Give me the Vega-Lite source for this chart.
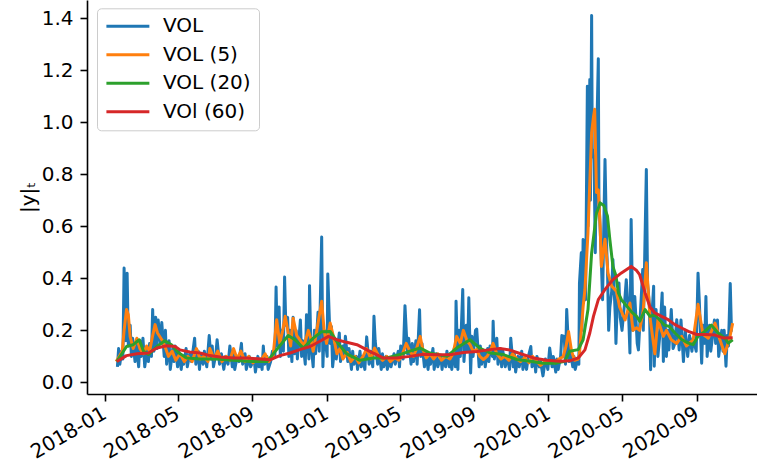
{
  "$schema": "https://vega.github.io/schema/vega-lite/v6.json",
  "width": 670,
  "height": 394,
  "autosize": {"type": "none"},
  "padding": {"left": 87, "top": 0, "right": 0, "bottom": 76},
  "config": {
    "view": {"stroke": null},
    "font": "DejaVu Sans",
    "axis": {"grid": false, "domainColor": "#000000", "domainWidth": 1.6, "tickColor": "#000000", "tickWidth": 1.6, "tickSize": 7, "labelFont": "DejaVu Sans", "labelFontSize": 20, "labelColor": "#000000", "titleFont": "DejaVu Sans", "titleFontSize": 20, "titleColor": "#000000", "titleFontWeight": "normal", "labelOverlap": false},
    "legend": {"orient": "none", "legendX": 10, "legendY": 8.3, "direction": "vertical", "fillColor": "rgba(255,255,255,0.8)", "strokeColor": "#cccccc", "cornerRadius": 4, "padding": 8, "labelFont": "DejaVu Sans", "labelFontSize": 20, "labelColor": "#000000", "symbolType": "M-1.2,0H4.8", "symbolSize": 205, "symbolStrokeWidth": 3, "labelOffset": 38, "rowPadding": 8.5, "title": null}
  },
  "datasets": {
    "vol": [
      {"d":"2018-01-22","v":0.06},{"d":"2018-01-24","v":0.13},{"d":"2018-01-26","v":0.07},{"d":"2018-01-29","v":0.12},{"d":"2018-01-31","v":0.09},
      {"d":"2018-02-02","v":0.44},{"d":"2018-02-05","v":0.16},{"d":"2018-02-07","v":0.42},{"d":"2018-02-09","v":0.14},{"d":"2018-02-12","v":0.22},{"d":"2018-02-14","v":0.10},{"d":"2018-02-16","v":0.17},{"d":"2018-02-20","v":0.08},{"d":"2018-02-22","v":0.15},{"d":"2018-02-26","v":0.06},{"d":"2018-02-28","v":0.16},
      {"d":"2018-03-02","v":0.10},{"d":"2018-03-05","v":0.17},{"d":"2018-03-08","v":0.06},{"d":"2018-03-12","v":0.13},{"d":"2018-03-14","v":0.08},{"d":"2018-03-16","v":0.15},{"d":"2018-03-19","v":0.10},{"d":"2018-03-21","v":0.28},{"d":"2018-03-23","v":0.12},{"d":"2018-03-26","v":0.25},{"d":"2018-03-28","v":0.13},{"d":"2018-03-30","v":0.24},
      {"d":"2018-04-03","v":0.15},{"d":"2018-04-05","v":0.23},{"d":"2018-04-09","v":0.10},{"d":"2018-04-11","v":0.20},{"d":"2018-04-13","v":0.07},{"d":"2018-04-17","v":0.16},{"d":"2018-04-19","v":0.05},{"d":"2018-04-23","v":0.13},{"d":"2018-04-25","v":0.08},{"d":"2018-04-27","v":0.14},
      {"d":"2018-05-01","v":0.06},{"d":"2018-05-03","v":0.12},{"d":"2018-05-07","v":0.05},{"d":"2018-05-09","v":0.10},{"d":"2018-05-11","v":0.07},{"d":"2018-05-15","v":0.13},{"d":"2018-05-17","v":0.06},{"d":"2018-05-21","v":0.11},{"d":"2018-05-24","v":0.08},{"d":"2018-05-29","v":0.17},{"d":"2018-05-31","v":0.07},
      {"d":"2018-06-04","v":0.12},{"d":"2018-06-06","v":0.05},{"d":"2018-06-08","v":0.11},{"d":"2018-06-12","v":0.07},{"d":"2018-06-14","v":0.12},{"d":"2018-06-18","v":0.06},{"d":"2018-06-22","v":0.18},{"d":"2018-06-25","v":0.09},{"d":"2018-06-27","v":0.14},{"d":"2018-06-29","v":0.06},
      {"d":"2018-07-03","v":0.11},{"d":"2018-07-05","v":0.164},{"d":"2018-07-09","v":0.07},{"d":"2018-07-12","v":0.11},{"d":"2018-07-16","v":0.05},{"d":"2018-07-19","v":0.10},{"d":"2018-07-23","v":0.07},{"d":"2018-07-26","v":0.14},{"d":"2018-07-30","v":0.06},
      {"d":"2018-08-01","v":0.12},{"d":"2018-08-03","v":0.05},{"d":"2018-08-07","v":0.10},{"d":"2018-08-10","v":0.08},{"d":"2018-08-14","v":0.15},{"d":"2018-08-16","v":0.07},{"d":"2018-08-20","v":0.11},{"d":"2018-08-22","v":0.05},{"d":"2018-08-27","v":0.10},{"d":"2018-08-29","v":0.06},
      {"d":"2018-09-04","v":0.09},{"d":"2018-09-06","v":0.04},{"d":"2018-09-10","v":0.10},{"d":"2018-09-12","v":0.06},{"d":"2018-09-14","v":0.09},{"d":"2018-09-17","v":0.05},{"d":"2018-09-19","v":0.14},{"d":"2018-09-21","v":0.07},{"d":"2018-09-25","v":0.10},{"d":"2018-09-27","v":0.05},
      {"d":"2018-10-01","v":0.08},{"d":"2018-10-04","v":0.12},{"d":"2018-10-08","v":0.10},{"d":"2018-10-10","v":0.367},{"d":"2018-10-12","v":0.14},{"d":"2018-10-15","v":0.29},{"d":"2018-10-17","v":0.10},{"d":"2018-10-19","v":0.20},{"d":"2018-10-22","v":0.12},{"d":"2018-10-24","v":0.405},{"d":"2018-10-26","v":0.22},{"d":"2018-10-29","v":0.25},{"d":"2018-10-31","v":0.10},
      {"d":"2018-11-02","v":0.20},{"d":"2018-11-05","v":0.08},{"d":"2018-11-07","v":0.25},{"d":"2018-11-09","v":0.11},{"d":"2018-11-12","v":0.20},{"d":"2018-11-14","v":0.09},{"d":"2018-11-19","v":0.24},{"d":"2018-11-21","v":0.10},{"d":"2018-11-23","v":0.16},{"d":"2018-11-27","v":0.07},{"d":"2018-11-29","v":0.26},
      {"d":"2018-12-03","v":0.09},{"d":"2018-12-04","v":0.372},{"d":"2018-12-06","v":0.16},{"d":"2018-12-10","v":0.06},{"d":"2018-12-12","v":0.20},{"d":"2018-12-14","v":0.11},{"d":"2018-12-18","v":0.27},{"d":"2018-12-20","v":0.12},{"d":"2018-12-24","v":0.559},{"d":"2018-12-26","v":0.06},{"d":"2018-12-28","v":0.20},
      {"d":"2019-01-02","v":0.10},{"d":"2019-01-03","v":0.417},{"d":"2019-01-07","v":0.15},{"d":"2019-01-09","v":0.215},{"d":"2019-01-11","v":0.06},{"d":"2019-01-15","v":0.15},{"d":"2019-01-17","v":0.09},{"d":"2019-01-22","v":0.19},{"d":"2019-01-24","v":0.08},{"d":"2019-01-28","v":0.14},{"d":"2019-01-30","v":0.10},
      {"d":"2019-02-01","v":0.177},{"d":"2019-02-05","v":0.08},{"d":"2019-02-07","v":0.13},{"d":"2019-02-11","v":0.05},{"d":"2019-02-13","v":0.12},{"d":"2019-02-15","v":0.07},{"d":"2019-02-19","v":0.10},{"d":"2019-02-21","v":0.05},{"d":"2019-02-25","v":0.12},{"d":"2019-02-27","v":0.06},
      {"d":"2019-03-01","v":0.10},{"d":"2019-03-05","v":0.05},{"d":"2019-03-08","v":0.175},{"d":"2019-03-12","v":0.07},{"d":"2019-03-14","v":0.12},{"d":"2019-03-18","v":0.06},{"d":"2019-03-20","v":0.254},{"d":"2019-03-22","v":0.16},{"d":"2019-03-26","v":0.07},{"d":"2019-03-28","v":0.13},
      {"d":"2019-04-01","v":0.05},{"d":"2019-04-03","v":0.11},{"d":"2019-04-05","v":0.06},{"d":"2019-04-09","v":0.10},{"d":"2019-04-11","v":0.05},{"d":"2019-04-15","v":0.09},{"d":"2019-04-17","v":0.06},{"d":"2019-04-22","v":0.11},{"d":"2019-04-24","v":0.07},{"d":"2019-04-29","v":0.12},
      {"d":"2019-05-01","v":0.06},{"d":"2019-05-03","v":0.14},{"d":"2019-05-07","v":0.09},{"d":"2019-05-10","v":0.295},{"d":"2019-05-14","v":0.11},{"d":"2019-05-16","v":0.17},{"d":"2019-05-20","v":0.07},{"d":"2019-05-22","v":0.15},{"d":"2019-05-24","v":0.08},{"d":"2019-05-28","v":0.16},{"d":"2019-05-30","v":0.07},
      {"d":"2019-06-03","v":0.279},{"d":"2019-06-05","v":0.10},{"d":"2019-06-07","v":0.15},{"d":"2019-06-11","v":0.06},{"d":"2019-06-13","v":0.12},{"d":"2019-06-17","v":0.05},{"d":"2019-06-19","v":0.10},{"d":"2019-06-21","v":0.07},{"d":"2019-06-25","v":0.13},{"d":"2019-06-27","v":0.05},
      {"d":"2019-07-01","v":0.11},{"d":"2019-07-03","v":0.06},{"d":"2019-07-08","v":0.10},{"d":"2019-07-10","v":0.05},{"d":"2019-07-12","v":0.09},{"d":"2019-07-16","v":0.06},{"d":"2019-07-18","v":0.12},{"d":"2019-07-22","v":0.06},{"d":"2019-07-24","v":0.11},{"d":"2019-07-26","v":0.05},{"d":"2019-07-30","v":0.13},
      {"d":"2019-08-01","v":0.06},{"d":"2019-08-02","v":0.312},{"d":"2019-08-05","v":0.05},{"d":"2019-08-07","v":0.20},{"d":"2019-08-09","v":0.10},{"d":"2019-08-13","v":0.357},{"d":"2019-08-15","v":0.08},{"d":"2019-08-19","v":0.22},{"d":"2019-08-21","v":0.12},{"d":"2019-08-23","v":0.325},{"d":"2019-08-26","v":0.036},{"d":"2019-08-28","v":0.177},{"d":"2019-08-30","v":0.10},
      {"d":"2019-09-03","v":0.20},{"d":"2019-09-05","v":0.205},{"d":"2019-09-09","v":0.06},{"d":"2019-09-11","v":0.14},{"d":"2019-09-13","v":0.07},{"d":"2019-09-17","v":0.12},{"d":"2019-09-19","v":0.06},{"d":"2019-09-23","v":0.13},{"d":"2019-09-25","v":0.08},{"d":"2019-09-27","v":0.14},
      {"d":"2019-10-01","v":0.10},{"d":"2019-10-02","v":0.235},{"d":"2019-10-04","v":0.09},{"d":"2019-10-08","v":0.17},{"d":"2019-10-10","v":0.07},{"d":"2019-10-14","v":0.13},{"d":"2019-10-16","v":0.06},{"d":"2019-10-18","v":0.12},{"d":"2019-10-22","v":0.06},{"d":"2019-10-25","v":0.10},{"d":"2019-10-29","v":0.05},{"d":"2019-10-31","v":0.17},
      {"d":"2019-11-04","v":0.06},{"d":"2019-11-06","v":0.11},{"d":"2019-11-08","v":0.04},{"d":"2019-11-12","v":0.10},{"d":"2019-11-14","v":0.06},{"d":"2019-11-18","v":0.12},{"d":"2019-11-20","v":0.05},{"d":"2019-11-22","v":0.09},{"d":"2019-11-26","v":0.05},{"d":"2019-11-29","v":0.10},
      {"d":"2019-12-03","v":0.138},{"d":"2019-12-05","v":0.06},{"d":"2019-12-09","v":0.09},{"d":"2019-12-11","v":0.04},{"d":"2019-12-13","v":0.10},{"d":"2019-12-17","v":0.06},{"d":"2019-12-19","v":0.08},{"d":"2019-12-23","v":0.025},{"d":"2019-12-27","v":0.09},{"d":"2019-12-31","v":0.05},
      {"d":"2020-01-03","v":0.132},{"d":"2020-01-07","v":0.06},{"d":"2020-01-09","v":0.10},{"d":"2020-01-13","v":0.04},{"d":"2020-01-15","v":0.09},{"d":"2020-01-17","v":0.05},{"d":"2020-01-21","v":0.10},{"d":"2020-01-23","v":0.18},{"d":"2020-01-27","v":0.177},{"d":"2020-01-29","v":0.07},{"d":"2020-01-31","v":0.28},
      {"d":"2020-02-04","v":0.08},{"d":"2020-02-06","v":0.12},{"d":"2020-02-10","v":0.06},{"d":"2020-02-12","v":0.10},{"d":"2020-02-14","v":0.05},{"d":"2020-02-18","v":0.09},{"d":"2020-02-20","v":0.07},{"d":"2020-02-21","v":0.382},{"d":"2020-02-24","v":0.498},{"d":"2020-02-25","v":0.20},{"d":"2020-02-27","v":0.549},{"d":"2020-02-28","v":0.318},
      {"d":"2020-03-02","v":0.318},{"d":"2020-03-05","v":1.138},{"d":"2020-03-06","v":0.60},{"d":"2020-03-09","v":1.164},{"d":"2020-03-10","v":0.70},{"d":"2020-03-12","v":1.41},{"d":"2020-03-13","v":0.90},{"d":"2020-03-16","v":0.857},{"d":"2020-03-18","v":0.498},{"d":"2020-03-20","v":0.90},{"d":"2020-03-23","v":1.244},{"d":"2020-03-24","v":0.70},{"d":"2020-03-27","v":0.537},{"d":"2020-03-30","v":0.318},
      {"d":"2020-04-01","v":0.60},{"d":"2020-04-03","v":0.857},{"d":"2020-04-06","v":0.50},{"d":"2020-04-07","v":0.446},{"d":"2020-04-09","v":0.20},{"d":"2020-04-11","v":0.29},{"d":"2020-04-14","v":0.35},{"d":"2020-04-16","v":0.472},{"d":"2020-04-20","v":0.25},{"d":"2020-04-21","v":0.15},{"d":"2020-04-23","v":0.30},{"d":"2020-04-26","v":0.382},{"d":"2020-04-28","v":0.25},
      {"d":"2020-05-01","v":0.20},{"d":"2020-05-05","v":0.30},{"d":"2020-05-08","v":0.395},{"d":"2020-05-12","v":0.25},{"d":"2020-05-14","v":0.113},{"d":"2020-05-16","v":0.626},{"d":"2020-05-19","v":0.20},{"d":"2020-05-22","v":0.33},{"d":"2020-05-26","v":0.15},{"d":"2020-05-28","v":0.125},
      {"d":"2020-06-01","v":0.30},{"d":"2020-06-04","v":0.434},{"d":"2020-06-05","v":0.20},{"d":"2020-06-10","v":0.818},{"d":"2020-06-12","v":0.382},{"d":"2020-06-15","v":0.30},{"d":"2020-06-17","v":0.049},{"d":"2020-06-19","v":0.25},{"d":"2020-06-22","v":0.37},{"d":"2020-06-23","v":0.062},{"d":"2020-06-26","v":0.28},{"d":"2020-06-29","v":0.10},
      {"d":"2020-07-02","v":0.177},{"d":"2020-07-06","v":0.344},{"d":"2020-07-08","v":0.08},{"d":"2020-07-10","v":0.29},{"d":"2020-07-13","v":0.10},{"d":"2020-07-15","v":0.20},{"d":"2020-07-17","v":0.125},{"d":"2020-07-21","v":0.28},{"d":"2020-07-24","v":0.13},{"d":"2020-07-27","v":0.15},{"d":"2020-07-30","v":0.241},
      {"d":"2020-08-03","v":0.125},{"d":"2020-08-06","v":0.24},{"d":"2020-08-10","v":0.08},{"d":"2020-08-13","v":0.20},{"d":"2020-08-17","v":0.10},{"d":"2020-08-20","v":0.18},{"d":"2020-08-24","v":0.12},{"d":"2020-08-26","v":0.17},{"d":"2020-08-31","v":0.12},
      {"d":"2020-09-03","v":0.42},{"d":"2020-09-05","v":0.318},{"d":"2020-09-09","v":0.074},{"d":"2020-09-11","v":0.22},{"d":"2020-09-14","v":0.15},{"d":"2020-09-16","v":0.33},{"d":"2020-09-18","v":0.10},{"d":"2020-09-22","v":0.22},{"d":"2020-09-24","v":0.12},{"d":"2020-09-28","v":0.20},{"d":"2020-09-30","v":0.24},
      {"d":"2020-10-02","v":0.15},{"d":"2020-10-05","v":0.24},{"d":"2020-10-07","v":0.10},{"d":"2020-10-12","v":0.20},{"d":"2020-10-14","v":0.12},{"d":"2020-10-16","v":0.20},{"d":"2020-10-19","v":0.062},{"d":"2020-10-21","v":0.18},{"d":"2020-10-23","v":0.14},{"d":"2020-10-26","v":0.38},{"d":"2020-10-28","v":0.20},{"d":"2020-10-30","v":0.20}
    ],
    "vol5": [
      {"d":"2018-01-20","v":0.08},{"d":"2018-01-25","v":0.10},{"d":"2018-01-30","v":0.12},{"d":"2018-02-02","v":0.20},{"d":"2018-02-06","v":0.28},{"d":"2018-02-09","v":0.26},{"d":"2018-02-12","v":0.176},{"d":"2018-02-17","v":0.13},{"d":"2018-02-23","v":0.17},{"d":"2018-02-28","v":0.13},
      {"d":"2018-03-06","v":0.11},{"d":"2018-03-11","v":0.14},{"d":"2018-03-16","v":0.12},{"d":"2018-03-21","v":0.18},{"d":"2018-03-25","v":0.222},{"d":"2018-03-29","v":0.19},{"d":"2018-04-05","v":0.164},{"d":"2018-04-10","v":0.14},{"d":"2018-04-16","v":0.10},{"d":"2018-04-22","v":0.12},{"d":"2018-04-28","v":0.085},
      {"d":"2018-05-05","v":0.11},{"d":"2018-05-12","v":0.08},{"d":"2018-05-18","v":0.10},{"d":"2018-05-25","v":0.08},{"d":"2018-06-01","v":0.13},{"d":"2018-06-07","v":0.09},{"d":"2018-06-13","v":0.10},{"d":"2018-06-20","v":0.08},{"d":"2018-06-23","v":0.13},{"d":"2018-06-30","v":0.09},
      {"d":"2018-07-06","v":0.12},{"d":"2018-07-13","v":0.08},{"d":"2018-07-20","v":0.10},{"d":"2018-07-26","v":0.085},{"d":"2018-08-01","v":0.13},{"d":"2018-08-07","v":0.09},{"d":"2018-08-13","v":0.12},{"d":"2018-08-20","v":0.08},{"d":"2018-08-26","v":0.10},
      {"d":"2018-09-02","v":0.075},{"d":"2018-09-09","v":0.09},{"d":"2018-09-15","v":0.085},{"d":"2018-09-22","v":0.11},{"d":"2018-09-28","v":0.08},{"d":"2018-10-05","v":0.10},{"d":"2018-10-11","v":0.241},{"d":"2018-10-16","v":0.15},{"d":"2018-10-21","v":0.20},{"d":"2018-10-25","v":0.254},{"d":"2018-10-30","v":0.19},
      {"d":"2018-11-03","v":0.14},{"d":"2018-11-07","v":0.247},{"d":"2018-11-13","v":0.18},{"d":"2018-11-18","v":0.164},{"d":"2018-11-25","v":0.14},{"d":"2018-12-02","v":0.20},{"d":"2018-12-06","v":0.17},{"d":"2018-12-10","v":0.12},{"d":"2018-12-16","v":0.20},{"d":"2018-12-24","v":0.312},{"d":"2018-12-28","v":0.20},
      {"d":"2019-01-01","v":0.15},{"d":"2019-01-07","v":0.228},{"d":"2019-01-12","v":0.18},{"d":"2019-01-18","v":0.11},{"d":"2019-01-23","v":0.13},{"d":"2019-01-28","v":0.09},{"d":"2019-02-04","v":0.115},{"d":"2019-02-10","v":0.08},{"d":"2019-02-17","v":0.10},{"d":"2019-02-23","v":0.075},
      {"d":"2019-03-02","v":0.10},{"d":"2019-03-08","v":0.13},{"d":"2019-03-15","v":0.09},{"d":"2019-03-21","v":0.132},{"d":"2019-03-28","v":0.10},{"d":"2019-04-03","v":0.085},{"d":"2019-04-10","v":0.10},{"d":"2019-04-16","v":0.08},{"d":"2019-04-23","v":0.095},{"d":"2019-04-30","v":0.085},
      {"d":"2019-05-06","v":0.11},{"d":"2019-05-12","v":0.15},{"d":"2019-05-18","v":0.12},{"d":"2019-05-24","v":0.10},{"d":"2019-05-29","v":0.13},{"d":"2019-06-04","v":0.177},{"d":"2019-06-08","v":0.13},{"d":"2019-06-14","v":0.094},{"d":"2019-06-20","v":0.11},{"d":"2019-06-26","v":0.09},
      {"d":"2019-07-03","v":0.11},{"d":"2019-07-09","v":0.085},{"d":"2019-07-16","v":0.10},{"d":"2019-07-23","v":0.09},{"d":"2019-07-28","v":0.11},{"d":"2019-08-03","v":0.177},{"d":"2019-08-09","v":0.15},{"d":"2019-08-14","v":0.20},{"d":"2019-08-20","v":0.16},{"d":"2019-08-25","v":0.145},{"d":"2019-08-30","v":0.12},
      {"d":"2019-09-05","v":0.126},{"d":"2019-09-10","v":0.10},{"d":"2019-09-16","v":0.088},{"d":"2019-09-22","v":0.10},{"d":"2019-09-27","v":0.12},{"d":"2019-10-02","v":0.15},{"d":"2019-10-08","v":0.11},{"d":"2019-10-15","v":0.09},{"d":"2019-10-21","v":0.10},{"d":"2019-10-28","v":0.085},
      {"d":"2019-11-03","v":0.11},{"d":"2019-11-10","v":0.09},{"d":"2019-11-16","v":0.08},{"d":"2019-11-23","v":0.095},{"d":"2019-11-30","v":0.075},{"d":"2019-12-06","v":0.10},{"d":"2019-12-13","v":0.08},{"d":"2019-12-19","v":0.065},{"d":"2019-12-26","v":0.08},
      {"d":"2020-01-03","v":0.085},{"d":"2020-01-11","v":0.075},{"d":"2020-01-18","v":0.09},{"d":"2020-01-25","v":0.098},{"d":"2020-01-30","v":0.14},{"d":"2020-02-03","v":0.196},{"d":"2020-02-08","v":0.12},{"d":"2020-02-13","v":0.085},{"d":"2020-02-19","v":0.09},{"d":"2020-02-21","v":0.11},{"d":"2020-02-27","v":0.29},
      {"d":"2020-03-01","v":0.357},{"d":"2020-03-06","v":0.575},{"d":"2020-03-12","v":0.96},{"d":"2020-03-15","v":1.02},{"d":"2020-03-17","v":1.05},{"d":"2020-03-20","v":0.73},{"d":"2020-03-23","v":0.74},{"d":"2020-03-26","v":0.60},{"d":"2020-03-28","v":0.446},
      {"d":"2020-04-03","v":0.55},{"d":"2020-04-08","v":0.42},{"d":"2020-04-14","v":0.37},{"d":"2020-04-22","v":0.35},{"d":"2020-04-27","v":0.29},{"d":"2020-05-06","v":0.24},{"d":"2020-05-14","v":0.305},{"d":"2020-05-19","v":0.20},{"d":"2020-05-25","v":0.21},{"d":"2020-05-30","v":0.20},
      {"d":"2020-06-05","v":0.28},{"d":"2020-06-10","v":0.46},{"d":"2020-06-16","v":0.25},{"d":"2020-06-24","v":0.11},{"d":"2020-06-29","v":0.24},{"d":"2020-07-08","v":0.177},{"d":"2020-07-13","v":0.20},{"d":"2020-07-21","v":0.164},{"d":"2020-07-30","v":0.15},
      {"d":"2020-08-07","v":0.177},{"d":"2020-08-15","v":0.14},{"d":"2020-08-26","v":0.164},{"d":"2020-09-03","v":0.30},{"d":"2020-09-11","v":0.185},{"d":"2020-09-20","v":0.17},{"d":"2020-10-01","v":0.228},{"d":"2020-10-09","v":0.164},{"d":"2020-10-17","v":0.11},{"d":"2020-10-25","v":0.17},{"d":"2020-10-30","v":0.228}
    ],
    "vol20": [
      {"d":"2018-01-21","v":0.08},{"d":"2018-02-06","v":0.138},{"d":"2018-02-17","v":0.145},{"d":"2018-02-27","v":0.164},{"d":"2018-03-06","v":0.12},{"d":"2018-03-14","v":0.107},{"d":"2018-03-28","v":0.138},{"d":"2018-04-10","v":0.16},{"d":"2018-04-21","v":0.145},
      {"d":"2018-05-02","v":0.115},{"d":"2018-05-16","v":0.094},{"d":"2018-06-07","v":0.09},{"d":"2018-07-04","v":0.09},{"d":"2018-08-01","v":0.085},{"d":"2018-08-28","v":0.08},{"d":"2018-09-25","v":0.08},{"d":"2018-10-11","v":0.126},{"d":"2018-10-30","v":0.18},
      {"d":"2018-11-10","v":0.164},{"d":"2018-11-24","v":0.132},{"d":"2018-12-10","v":0.17},{"d":"2018-12-24","v":0.195},{"d":"2019-01-07","v":0.196},{"d":"2019-01-20","v":0.15},{"d":"2019-02-03","v":0.11},{"d":"2019-02-25","v":0.085},{"d":"2019-03-19","v":0.094},
      {"d":"2019-04-10","v":0.094},{"d":"2019-05-02","v":0.107},{"d":"2019-05-18","v":0.12},{"d":"2019-06-04","v":0.132},{"d":"2019-06-20","v":0.113},{"d":"2019-07-18","v":0.10},{"d":"2019-08-03","v":0.132},{"d":"2019-08-25","v":0.164},{"d":"2019-09-10","v":0.132},
      {"d":"2019-09-27","v":0.113},{"d":"2019-10-19","v":0.107},{"d":"2019-11-10","v":0.088},{"d":"2019-12-02","v":0.081},{"d":"2019-12-23","v":0.074},{"d":"2020-01-14","v":0.074},{"d":"2020-01-28","v":0.081},{"d":"2020-02-05","v":0.12},{"d":"2020-02-19","v":0.126},
      {"d":"2020-02-27","v":0.164},{"d":"2020-03-06","v":0.28},{"d":"2020-03-12","v":0.498},{"d":"2020-03-20","v":0.65},{"d":"2020-03-26","v":0.69},{"d":"2020-04-01","v":0.68},{"d":"2020-04-07","v":0.64},{"d":"2020-04-11","v":0.549},{"d":"2020-04-16","v":0.446},
      {"d":"2020-04-21","v":0.41},{"d":"2020-04-25","v":0.344},{"d":"2020-04-30","v":0.318},{"d":"2020-05-09","v":0.293},{"d":"2020-05-17","v":0.27},{"d":"2020-05-25","v":0.254},{"d":"2020-05-30","v":0.235},{"d":"2020-06-08","v":0.28},{"d":"2020-06-16","v":0.254},
      {"d":"2020-06-24","v":0.26},{"d":"2020-07-02","v":0.24},{"d":"2020-07-10","v":0.22},{"d":"2020-07-18","v":0.215},{"d":"2020-07-27","v":0.19},{"d":"2020-08-07","v":0.165},{"d":"2020-08-18","v":0.151},{"d":"2020-08-26","v":0.145},{"d":"2020-09-03","v":0.177},
      {"d":"2020-09-14","v":0.196},{"d":"2020-09-25","v":0.22},{"d":"2020-10-06","v":0.19},{"d":"2020-10-17","v":0.17},{"d":"2020-10-23","v":0.151},{"d":"2020-10-30","v":0.164}
    ],
    "vol60": [
      {"d":"2018-01-21","v":0.08},{"d":"2018-02-06","v":0.103},{"d":"2018-02-23","v":0.11},{"d":"2018-03-14","v":0.113},{"d":"2018-03-28","v":0.132},{"d":"2018-04-13","v":0.141},{"d":"2018-04-27","v":0.138},{"d":"2018-05-05","v":0.125},{"d":"2018-05-21","v":0.117},
      {"d":"2018-06-07","v":0.113},{"d":"2018-06-23","v":0.103},{"d":"2018-07-10","v":0.098},{"d":"2018-08-01","v":0.094},{"d":"2018-08-23","v":0.094},{"d":"2018-09-14","v":0.09},{"d":"2018-09-30","v":0.087},{"d":"2018-10-16","v":0.103},{"d":"2018-11-02","v":0.113},
      {"d":"2018-11-18","v":0.126},{"d":"2018-12-05","v":0.138},{"d":"2018-12-21","v":0.158},{"d":"2019-01-04","v":0.177},{"d":"2019-01-18","v":0.164},{"d":"2019-02-03","v":0.154},{"d":"2019-02-20","v":0.145},{"d":"2019-03-13","v":0.119},{"d":"2019-04-04","v":0.094},
      {"d":"2019-04-26","v":0.094},{"d":"2019-05-18","v":0.10},{"d":"2019-06-09","v":0.108},{"d":"2019-07-01","v":0.106},{"d":"2019-07-23","v":0.106},{"d":"2019-08-14","v":0.115},{"d":"2019-09-05","v":0.119},{"d":"2019-09-27","v":0.126},{"d":"2019-10-13","v":0.13},
      {"d":"2019-10-30","v":0.124},{"d":"2019-11-15","v":0.111},{"d":"2019-12-07","v":0.094},{"d":"2019-12-29","v":0.085},{"d":"2020-01-20","v":0.081},{"d":"2020-02-05","v":0.083},{"d":"2020-02-19","v":0.094},{"d":"2020-03-01","v":0.125},{"d":"2020-03-09","v":0.19},
      {"d":"2020-03-15","v":0.254},{"d":"2020-03-23","v":0.318},{"d":"2020-04-03","v":0.357},{"d":"2020-04-16","v":0.395},{"d":"2020-04-30","v":0.421},{"d":"2020-05-16","v":0.446},{"d":"2020-05-25","v":0.43},{"d":"2020-05-30","v":0.414},{"d":"2020-06-08","v":0.344},
      {"d":"2020-06-16","v":0.29},{"d":"2020-06-24","v":0.267},{"d":"2020-07-05","v":0.254},{"d":"2020-07-16","v":0.241},{"d":"2020-07-27","v":0.222},{"d":"2020-08-07","v":0.209},{"d":"2020-08-18","v":0.196},{"d":"2020-09-01","v":0.184},{"d":"2020-09-14","v":0.184},
      {"d":"2020-10-01","v":0.182},{"d":"2020-10-14","v":0.171},{"d":"2020-10-30","v":0.172}
    ]
  },
  "encoding": {
    "x": {"field": "d", "type": "temporal", "title": null,
      "scale": {"type": "utc", "domain": [{"year": 2017, "month": 12, "date": 3, "utc": true}, {"year": 2020, "month": 12, "date": 9, "utc": true}]},
      "axis": {"format": "%Y-%m", "labelAngle": -30, "labelAlign": "right", "labelBaseline": "top", "labelPadding": 2, "labelOffset": -5,
        "values": [{"year": 2018, "month": 1, "date": 1, "utc": true}, {"year": 2018, "month": 5, "date": 1, "utc": true}, {"year": 2018, "month": 9, "date": 1, "utc": true}, {"year": 2019, "month": 1, "date": 1, "utc": true}, {"year": 2019, "month": 5, "date": 1, "utc": true}, {"year": 2019, "month": 9, "date": 1, "utc": true}, {"year": 2020, "month": 1, "date": 1, "utc": true}, {"year": 2020, "month": 5, "date": 1, "utc": true}, {"year": 2020, "month": 9, "date": 1, "utc": true}]}},
    "y": {"field": "v", "type": "quantitative", "title": "|y|ₜ",
      "scale": {"domain": [-0.0446, 1.47], "nice": false, "zero": false},
      "axis": {"values": [0, 0.2, 0.4, 0.6, 0.8, 1.0, 1.2, 1.4], "format": ".1f", "labelPadding": 7, "titlePadding": 3}}
  },
  "layer": [
    {"data": {"name": "vol"}, "mark": {"type": "line", "strokeWidth": 3, "strokeJoin": "round", "clip": true}, "encoding": {"color": {"datum": "VOL", "type": "nominal", "scale": {"domain": ["VOL", "VOL (5)", "VOL (20)", "VOl (60)"], "range": ["#1f77b4", "#ff7f0e", "#2ca02c", "#d62728"]}}}},
    {"data": {"name": "vol5"}, "mark": {"type": "line", "strokeWidth": 3, "strokeJoin": "round", "clip": true}, "encoding": {"color": {"datum": "VOL (5)", "type": "nominal"}}},
    {"data": {"name": "vol20"}, "mark": {"type": "line", "strokeWidth": 3, "strokeJoin": "round", "clip": true}, "encoding": {"color": {"datum": "VOL (20)", "type": "nominal"}}},
    {"data": {"name": "vol60"}, "mark": {"type": "line", "strokeWidth": 3, "strokeJoin": "round", "clip": true}, "encoding": {"color": {"datum": "VOl (60)", "type": "nominal"}}}
  ]
}
